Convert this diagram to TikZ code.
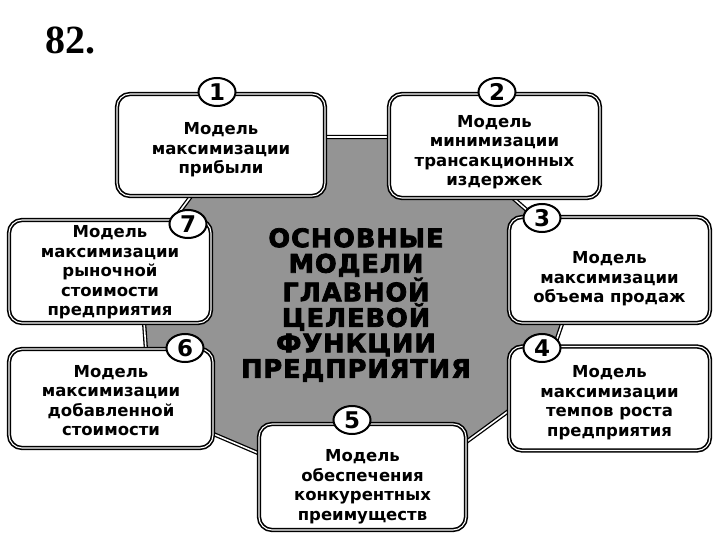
\documentclass[tikz,border=0pt]{standalone}
\usepackage{fontspec}
\setmainfont{DejaVu Sans}
\newfontfamily\boxfont{DejaVu Sans Bold}
\newfontfamily\titlefont{DejaVu Sans Bold}[FakeBold=3, LetterSpace=4]
\newfontfamily\pagefont{Liberation Serif Bold}
\usetikzlibrary{shapes.geometric}

\begin{document}
\begin{tikzpicture}[x=1pt, y=-1pt,
    modelbox/.style={draw, fill=white, rounded corners=13pt, line width=1.6pt,
        double=white, double distance=1.1pt, inner sep=0pt},
    boxtext/.style={align=center, inner sep=0pt,
        font={\boxfont\fontsize{16.5}{19.5}\selectfont}},
    numcirc/.style={draw, fill=white, ellipse, line width=2pt, inner sep=0pt,
        minimum width=37pt, minimum height=28pt,
        font={\boxfont\fontsize{23}{23}\selectfont}},
    ringline/.style={line width=1.3pt, double=white, double distance=1.6pt,
        fill=black!42, line join=round}]
    \fill[white] (0,0) rectangle (720,540);
    \useasboundingbox (0,0) rectangle (720,540);

    \node[anchor=base west, font={\pagefont\fontsize{40}{40}\selectfont}] (page) at (42,54) {82.};

    % corners of the ring behind the boxes
    \coordinate (v1) at (235,137);
    \coordinate (v2) at (443,137);
    \coordinate (v3) at (584,260);
    \coordinate (v4) at (540,388);
    \coordinate (v5) at (380,505);
    \coordinate (v6) at (150,407);
    \coordinate (v7) at (140,265);
    \draw[ringline] (v1) -- (v2) -- (v3) -- (v4) -- (v5) -- (v6) -- (v7) -- cycle;

    \node[align=center, font={\titlefont\fontsize{25.5}{25.5}\selectfont}] (title) at (356,305)
        {ОСНОВНЫЕ\\МОДЕЛИ\\ГЛАВНОЙ\\ЦЕЛЕВОЙ\\ФУНКЦИИ\\ПРЕДПРИЯТИЯ};

    % the seven model boxes
    \node[modelbox, minimum width=208pt, minimum height=102pt] (m1) at (221,145) {};
    \node[modelbox, minimum width=211pt, minimum height=104pt] (m2) at (494.5,146) {};
    \node[modelbox, minimum width=201pt, minimum height=106pt] (m3) at (609.5,270) {};
    \node[modelbox, minimum width=201pt, minimum height=104pt] (m4) at (609.5,398.5) {};
    \node[modelbox, minimum width=207pt, minimum height=106pt] (m5) at (362.5,477) {};
    \node[modelbox, minimum width=204pt, minimum height=99pt] (m6) at (111,398.5) {};
    \node[modelbox, minimum width=202pt, minimum height=103pt] (m7) at (110,271.5) {};

    \node[boxtext] (t1) at ([yshift=-5pt]m1.center) {Модель\\максимизации\\прибыли};
    \node[boxtext] (t2) at ([yshift=-6pt]m2.center) {Модель\\минимизации\\трансакционных\\издержек};
    \node[boxtext] (t3) at ([yshift=-9pt]m3.center) {Модель\\максимизации\\объема продаж};
    \node[boxtext] (t4) at ([yshift=-4pt]m4.center) {Модель\\максимизации\\темпов роста\\предприятия};
    \node[boxtext] (t5) at ([yshift=-10pt]m5.center) {Модель\\обеспечения\\конкурентных\\преимуществ};
    \node[boxtext] (t6) at ([yshift=-2pt]m6.center) {Модель\\максимизации\\добавленной\\стоимости};
    \node[boxtext] (t7) at ([yshift=-1pt]m7.center) {Модель\\максимизации\\рыночной\\стоимости\\предприятия};

    \node[numcirc] (n1) at (217,92) {1};
    \node[numcirc] (n2) at (497,92) {2};
    \node[numcirc] (n3) at (542,218) {3};
    \node[numcirc] (n4) at (542,348) {4};
    \node[numcirc] (n5) at (352,420) {5};
    \node[numcirc] (n6) at (185,348) {6};
    \node[numcirc] (n7) at (188,224) {7};
\end{tikzpicture}
\end{document}
